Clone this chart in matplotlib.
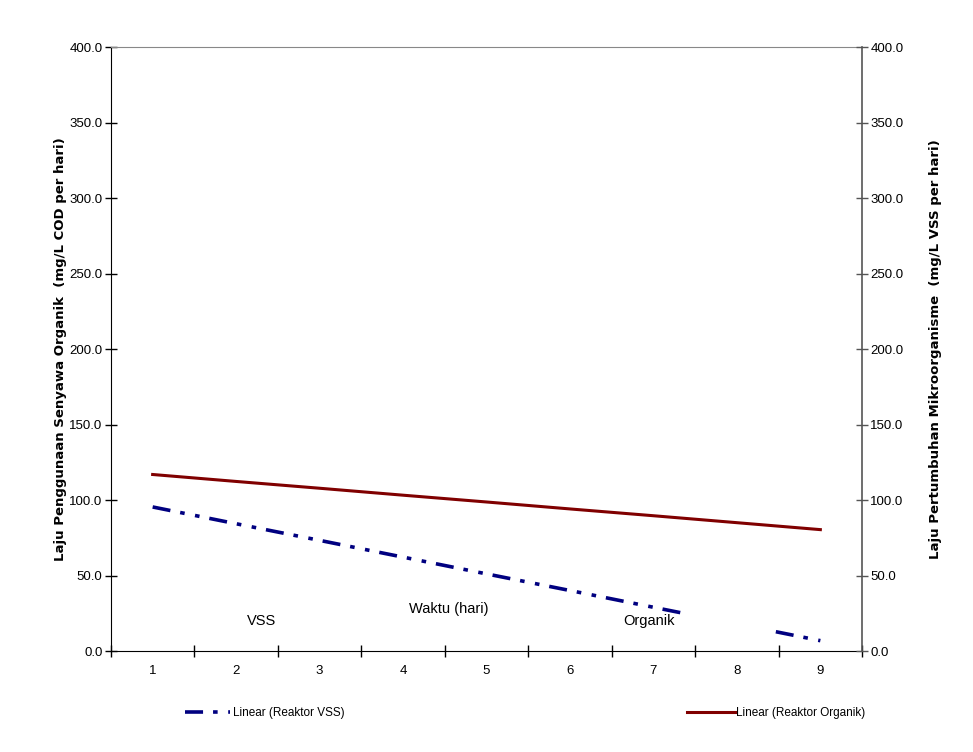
import matplotlib.pyplot as plt
from matplotlib.patches import Rectangle

plt.rcParams['font.family'] = ['Liberation Sans', 'DejaVu Sans']
plt.rcParams['lines.scale_dashes'] = False

days = [1, 2, 3, 4, 5, 6, 7, 8, 9]
trend_vss = [95.5, 84.4, 73.4, 62.3, 51.2, 40.2, 29.1, 18.1, 7.0]
trend_organik = [117.0, 112.4, 107.9, 103.3, 98.8, 94.2, 89.7, 85.1, 80.5]
yticks = [0, 50, 100, 150, 200, 250, 300, 350, 400]

fig = plt.figure(figsize=(9.73, 7.52), dpi=100)
ax = fig.add_axes([0.114, 0.134, 0.772, 0.8035])

l_vss, = ax.plot(days, trend_vss, color='#000080', lw=2.6,
                 dashes=(13, 7.2, 3.3, 7.6, 3.3, 7.2))
l_org, = ax.plot(days, trend_organik, color='#800000', lw=2.2)

# white text box that hides part of the VSS trendline
ax.add_patch(Rectangle((7.43, 4), 0.95, 22.5, facecolor='white', edgecolor='none', zorder=3))
ax.text(2.3, 20, 'VSS', fontsize=10.5, ha='center', va='center', zorder=4)
ax.text(4.55, 28, 'Waktu (hari)', fontsize=10.5, ha='center', va='center', zorder=4)
ax.text(6.95, 20, 'Organik', fontsize=10.5, ha='center', va='center', zorder=4)

ax.set_xlim(0.5, 9.5)
ax.set_ylim(0, 400)
ax.set_xticks([d - 0.5 for d in days] + [9.5])
ax.set_xticklabels([])
ax.set_xticks(days, minor=True)
ax.set_xticklabels([str(d) for d in days], minor=True)
ax.tick_params(axis='x', which='major', direction='inout', length=8, width=1)
ax.tick_params(axis='x', which='minor', length=0, labelsize=9.5, pad=10)

ax.set_yticks(yticks)
ax.set_yticklabels([f'{v:.1f}' for v in yticks])
ax.tick_params(axis='y', direction='inout', length=8, width=1, labelsize=9.5, pad=2)

ax2 = ax.twinx()
ax2.set_ylim(0, 400)
ax2.set_yticks(yticks)
ax2.set_yticklabels([f'{v:.1f}' for v in yticks])
ax2.tick_params(axis='y', direction='inout', length=8, width=1, labelsize=9.5, pad=2,
                color='#555555')

ax.spines['top'].set_color('#888888')
ax.spines['top'].set_linewidth(0.8)
ax2.spines['top'].set_visible(False)
ax2.spines['right'].set_color('#555555')
ax2.spines['right'].set_linewidth(1.2)
ax.spines['right'].set_visible(False)
ax2.spines['left'].set_visible(False)
ax2.spines['bottom'].set_visible(False)

ax.set_ylabel('Laju Penggunaan Senyawa Organik  (mg/L COD per hari)', fontsize=9.5,
              fontweight='bold', family='DejaVu Sans', labelpad=2)
ax2.set_ylabel('Laju Pertumbuhan Mikroorganisme  (mg/L VSS per hari)', fontsize=9.5,
               fontweight='bold', family='DejaVu Sans', labelpad=18)

fig.legend([l_vss], ['Linear (Reaktor VSS)'], loc='center left',
           bbox_to_anchor=(185 / 973, 0.052), frameon=False, fontsize=8.5,
           handlelength=3.8, handletextpad=0.3, borderaxespad=0, borderpad=0)
fig.legend([l_org], ['Linear (Reaktor Organik)'], loc='center left',
           bbox_to_anchor=(687 / 973, 0.052), frameon=False, fontsize=8.5,
           handlelength=4.07, handletextpad=0.1, borderaxespad=0, borderpad=0)

fig.savefig('out.png', dpi=100)
